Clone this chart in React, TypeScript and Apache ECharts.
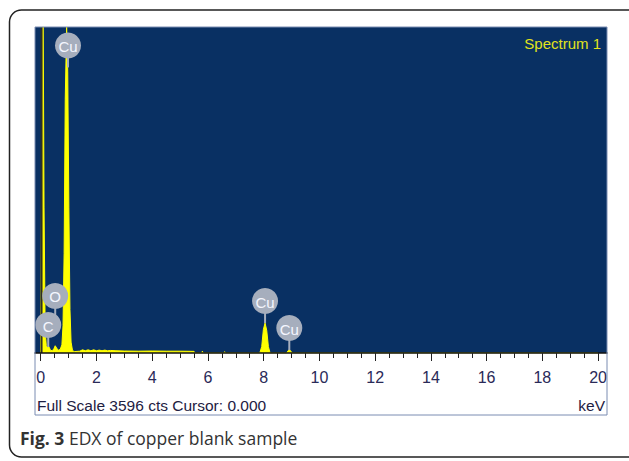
import React, { useEffect, useRef } from "react";
import * as echarts from "echarts";

// Spectrum (energy in keV, counts)
const energyKeV = [
  0.0, 0.06, 0.09, 0.12, 0.16, 0.2, 0.24, 0.28, 0.31, 0.35, 0.41, 0.47, 0.52, 0.57, 0.63, 0.7,
  0.76, 0.8, 0.84, 0.88, 0.93, 0.97, 1.01, 1.05, 1.09, 1.14,
  1.2, 1.4, 1.5, 1.6, 1.7, 1.8, 1.9, 2.0, 2.1, 2.2, 2.3, 2.4, 2.5, 2.7, 3.0, 3.5, 4.0, 4.5, 5.0, 5.5,
  5.55, 5.78, 5.8, 5.84, 6.58, 6.6, 6.64,
  7.86, 7.93, 7.99, 8.05, 8.11, 8.17, 8.23,
  8.82, 8.87, 8.92, 8.97, 9.02, 20.0,
];
const counts = [
  0, 3596, 3596, 1600, 250, 80, 55, 75, 60, 30, 25, 45, 80, 55, 30, 40,
  90, 300, 1100, 2800, 3596, 3100, 1600, 480, 120, 30,
  15, 20, 35, 25, 35, 25, 35, 25, 32, 25, 32, 25, 28, 25, 22, 20, 22, 20, 20, 18,
  0, 0, 20, 0, 0, 15, 0,
  0, 70, 260, 330, 250, 70, 0,
  0, 22, 38, 22, 0, 0,
];
const fullScaleCounts = 3596;

// Element markers
const elementNames = ["Cu", "O", "C", "Cu", "Cu"];
const elementEnergies = [0.98, 0.52, 0.27, 8.05, 8.92];
const elementMarkerCounts = [3150, 387, 66, 330, 33];

// Axis ticks
const majorTicks = [0, 2, 4, 6, 8, 10, 12, 14, 16, 18, 20];
const minorTicks: number[] = [];
for (let i = 0; i <= 40; i++) minorTicks.push(i / 2);

const cursorKeV = 0.03;

export default function App() {
  const ref = useRef<HTMLDivElement>(null);
  useEffect(() => {
    if (!ref.current) return;
    const chart = echarts.init(ref.current, undefined, { renderer: "svg" });
    const spectrum = energyKeV.map((e, i) => [e, counts[i]]);
    const markers = elementEnergies.map((e, i) => [e, elementMarkerCounts[i], i]);
    const sans = "'Liberation Sans', Arial, sans-serif";
    const xMin = -0.205;
    const xMax = 20.32;
    chart.setOption({
      animation: false,
      grid: {
        left: 35,
        right: 22,
        top: 27,
        bottom: 108,
        show: true,
        backgroundColor: "#093063",
        borderWidth: 0,
      },
      xAxis: [
        {
          type: "value",
          min: xMin,
          max: xMax,
          position: "bottom",
          z: 5,
          axisLine: { show: true, onZero: false, lineStyle: { color: "#111", width: 1.5 } },
          axisTick: { show: true, customValues: minorTicks, length: 5, lineStyle: { color: "#222", width: 1 } },
          axisLabel: { show: false },
          splitLine: { show: false },
        },
        {
          type: "value",
          min: xMin,
          max: xMax,
          position: "bottom",
          z: 5,
          axisLine: { show: false, onZero: false },
          axisTick: { show: true, customValues: majorTicks, length: 8, lineStyle: { color: "#222", width: 1 } },
          axisLabel: {
            show: true,
            customValues: majorTicks,
            margin: 16,
            fontSize: 16,
            color: "#2a2a58",
            fontFamily: sans,
          },
          splitLine: { show: false },
        },
      ],
      yAxis: { type: "value", min: 0, max: fullScaleCounts, show: false },
      series: [
        {
          type: "line",
          xAxisIndex: 0,
          data: spectrum,
          showSymbol: false,
          symbol: "none",
          lineStyle: { color: "#ffff00", width: 1 },
          areaStyle: { color: "#ffff00", opacity: 1 },
          z: 2,
        },
        {
          type: "line",
          xAxisIndex: 0,
          data: [
            [cursorKeV, 0],
            [cursorKeV, fullScaleCounts],
          ],
          showSymbol: false,
          symbol: "none",
          lineStyle: { color: "#2e2e26", width: 2 },
          z: 3,
        },
        {
          type: "custom",
          xAxisIndex: 0,
          clip: false,
          z: 4,
          data: markers,
          encode: { x: 0, y: 1 },
          renderItem: (params: any, api: any) => {
            const p = api.coord([api.value(0), api.value(1)]);
            const name = elementNames[api.value(2)];
            const cy = p[1] - 22;
            return {
              type: "group",
              children: [
                {
                  type: "line",
                  shape: { x1: p[0], y1: p[1], x2: p[0], y2: cy },
                  style: { stroke: "#a6aebd", lineWidth: 2 },
                },
                {
                  type: "circle",
                  shape: { cx: p[0], cy, r: 13 },
                  style: { fill: "#a6aebd" },
                },
                {
                  type: "text",
                  style: {
                    text: name,
                    x: p[0],
                    y: cy + 1,
                    align: "center",
                    verticalAlign: "middle",
                    fill: "#f4f6ff",
                    font: "15px 'Liberation Sans', Arial, sans-serif",
                  },
                },
              ],
            };
          },
        },
      ],
      graphic: [
        {
          type: "rect",
          z: 0,
          shape: { x: 9.5, y: 10, width: 700, height: 447, r: 12 },
          style: { fill: "none", stroke: "#222", lineWidth: 1.5 },
        },
        {
          type: "rect",
          z: 20,
          shape: { x: 35, y: 27, width: 572, height: 388 },
          style: { fill: "none", stroke: "#7a8cb2", lineWidth: 1 },
        },
        {
          type: "text",
          z: 20,
          style: {
            text: "Spectrum 1",
            x: 601,
            y: 43,
            align: "right",
            verticalAlign: "middle",
            fill: "#e2e21c",
            font: "15px 'Liberation Sans', Arial, sans-serif",
          },
        },
        {
          type: "text",
          z: 20,
          style: {
            text: "Full Scale 3596 cts Cursor: 0.000",
            x: 37,
            y: 405,
            align: "left",
            verticalAlign: "middle",
            fill: "#1e2042",
            font: "15.5px 'Liberation Sans', Arial, sans-serif",
          },
        },
        {
          type: "text",
          z: 20,
          style: {
            text: "keV",
            x: 605,
            y: 405,
            align: "right",
            verticalAlign: "middle",
            fill: "#1e2042",
            font: "15.5px 'Liberation Sans', Arial, sans-serif",
          },
        },
        {
          type: "text",
          z: 20,
          style: {
            text: "{b|Fig. 3} EDX of copper blank sample",
            x: 20,
            y: 438,
            align: "left",
            verticalAlign: "middle",
            fill: "#333",
            font: "17.5px 'Open Sans', sans-serif",
            rich: {
              b: { fontWeight: "bold", fontSize: 17.5, fontFamily: "'Open Sans', sans-serif", fill: "#333" },
            },
          },
        },
      ],
    });
    return () => chart.dispose();
  }, []);
  return (
    <div
      ref={ref}
      style={{ position: "fixed", left: 0, top: 0, width: 629, height: 461, background: "#fff" }}
    />
  );
}
